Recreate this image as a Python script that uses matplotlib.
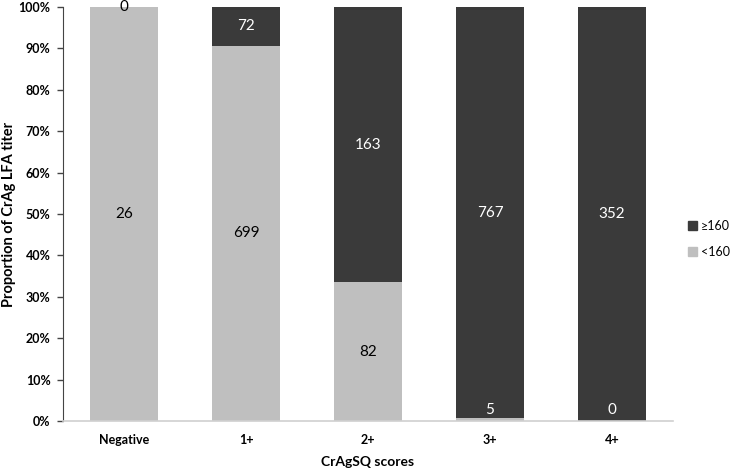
import numpy as np
import matplotlib.pyplot as plt
from matplotlib.patches import Patch

plt.rcParams['font.family'] = ['Lato', 'DejaVu Sans']

categories = ['Negative', '1+', '2+', '3+', '4+']
low_counts = [26, 699, 82, 5, 0]      # <160
high_counts = [0, 72, 163, 767, 352]  # >=160

low = np.array(low_counts, dtype=float)
high = np.array(high_counts, dtype=float)
total = low + high
low_pct = low / total * 100
high_pct = high / total * 100

c_low = '#bfbfbf'
c_high = '#3a3a3a'

fig = plt.figure(figsize=(7.35, 4.69), dpi=100)
ax = fig.add_axes([63 / 735, 1 - 421 / 469, 610 / 735, 414 / 469])

x = np.arange(len(categories))
w = 0.565
ax.bar(x, low_pct, w, color=c_low)
ax.bar(x, high_pct, w, bottom=low_pct, color=c_high)

# data labels
for i in range(len(categories)):
    y_low = low_pct[i] / 2
    y_high = low_pct[i] + high_pct[i] / 2
    if low_pct[i] < 3:
        y_low = 2.6
        col_low = 'white'
    else:
        col_low = 'black'
    if high_pct[i] < 3:
        y_high = 100.0
        col_high = 'black'
    else:
        col_high = 'white'
    ax.text(x[i], y_low, str(low_counts[i]), ha='center', va='center',
            fontsize=11, color=col_low, clip_on=False)
    ax.text(x[i], y_high, str(high_counts[i]), ha='center', va='center',
            fontsize=11, color=col_high, clip_on=False)

ax.set_xlim(-0.5, len(categories) - 0.5)
ax.set_ylim(0, 100)
ax.set_yticks(np.arange(0, 101, 10))
ax.set_yticklabels([f'{v}%' for v in range(0, 101, 10)], fontweight='bold', fontsize=9)
ax.set_xticks(x)
ax.set_xticklabels(categories, fontweight='bold', fontsize=9)
ax.tick_params(axis='x', length=0, pad=9)
ax.tick_params(axis='y', length=4, width=1, color='#444444', pad=5)

for s in ['top', 'right']:
    ax.spines[s].set_visible(False)
ax.spines['left'].set_color('#444444')
ax.spines['bottom'].set_color('#d0d0d0')
ax.spines['bottom'].set_linewidth(1.2)

ax.set_xlabel('CrAgSQ scores', fontweight='bold', fontsize=10)
ax.set_ylabel('Proportion of CrAg LFA titer', fontweight='bold', fontsize=10.5)
ax.xaxis.set_label_coords(0.5, -0.085)
ax.yaxis.set_label_coords(-0.077, 0.5)

handles = [Patch(color=c_high, label='≥160'), Patch(color=c_low, label='<160')]
fig.legend(handles=handles, loc='center left', bbox_to_anchor=(677 / 735, 1 - 239 / 469),
           frameon=False, fontsize=9, handlelength=0.7, handleheight=0.7,
           handletextpad=0.3, labelspacing=1.1)

fig.savefig('out.png', dpi=100)
